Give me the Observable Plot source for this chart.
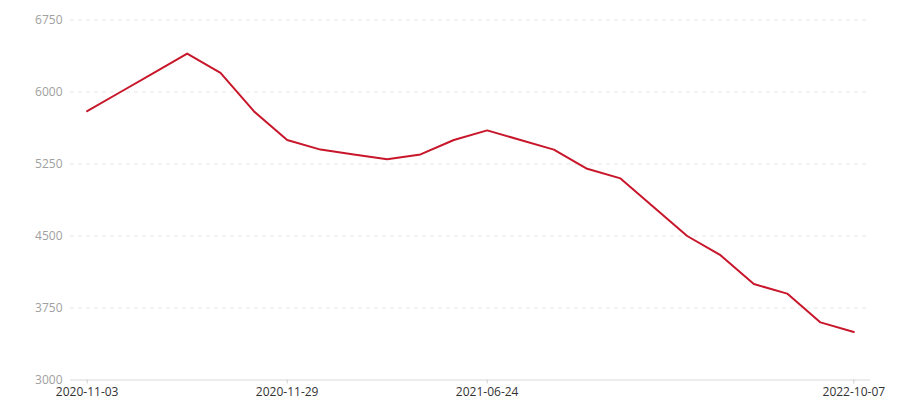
<!DOCTYPE html>
<html>
<head>
<meta charset="utf-8">
<script src="https://cdn.jsdelivr.net/npm/d3@7"></script>
<script src="https://cdn.jsdelivr.net/npm/@observablehq/plot@0.6"></script>
<style>
  html, body { margin: 0; padding: 0; background: #fff; }
  #chart svg { display: block; font-family: "Open Sans", "Noto Sans", sans-serif; }
</style>
</head>
<body>
<div id="chart"></div>
<script>
// Series values (one per category, in order)
const values = [5800, 6000, 6200, 6400, 6200, 5800, 5500, 5400, 5350, 5300, 5350, 5500,
                5600, 5500, 5400, 5200, 5100, 4800, 4500, 4300, 4000, 3900, 3600, 3500];
// Category positions shown with labels
const tickIndices = [0, 6, 12, 23];
const tickLabels = ["2020-11-03", "2020-11-29", "2021-06-24", "2022-10-07"];
const yTicks = [3000, 3750, 4500, 5250, 6000, 6750];

const data = values.map((v, i) => ({ i, v }));
const labelOf = new Map(tickIndices.map((t, k) => [t, tickLabels[k]]));

const chart = Plot.plot({
  width: 900,
  height: 400,
  marginLeft: 70,
  marginRight: 30,
  marginTop: 19.5,
  marginBottom: 20.5,
  x: { type: "linear", domain: [-0.5, values.length - 0.5] },
  y: { domain: [3000, 6750] },
  marks: [
    Plot.gridY(yTicks.slice(1), { stroke: "#e6e6e6", strokeOpacity: 1, strokeDasharray: "4,4" }),
    Plot.ruleY([3000], { stroke: "#d9d9d9", strokeWidth: 1 }),
    Plot.axisY({ ticks: yTicks, tickFormat: d3.format("d"), tickSize: 0, tickPadding: 8,
                 fill: "#a0a0a0", fontSize: 12, label: null }),
    Plot.axisX({ ticks: tickIndices, tickFormat: d => labelOf.get(d), tickSize: 4, tickPadding: 3,
                 stroke: "#cfcfcf", fill: "#333", fontSize: 12, label: null }),
    Plot.line(data, { x: "i", y: "v", stroke: "#c8162a", strokeWidth: 2 })
  ]
});
document.getElementById("chart").append(chart);
</script>
</body>
</html>
